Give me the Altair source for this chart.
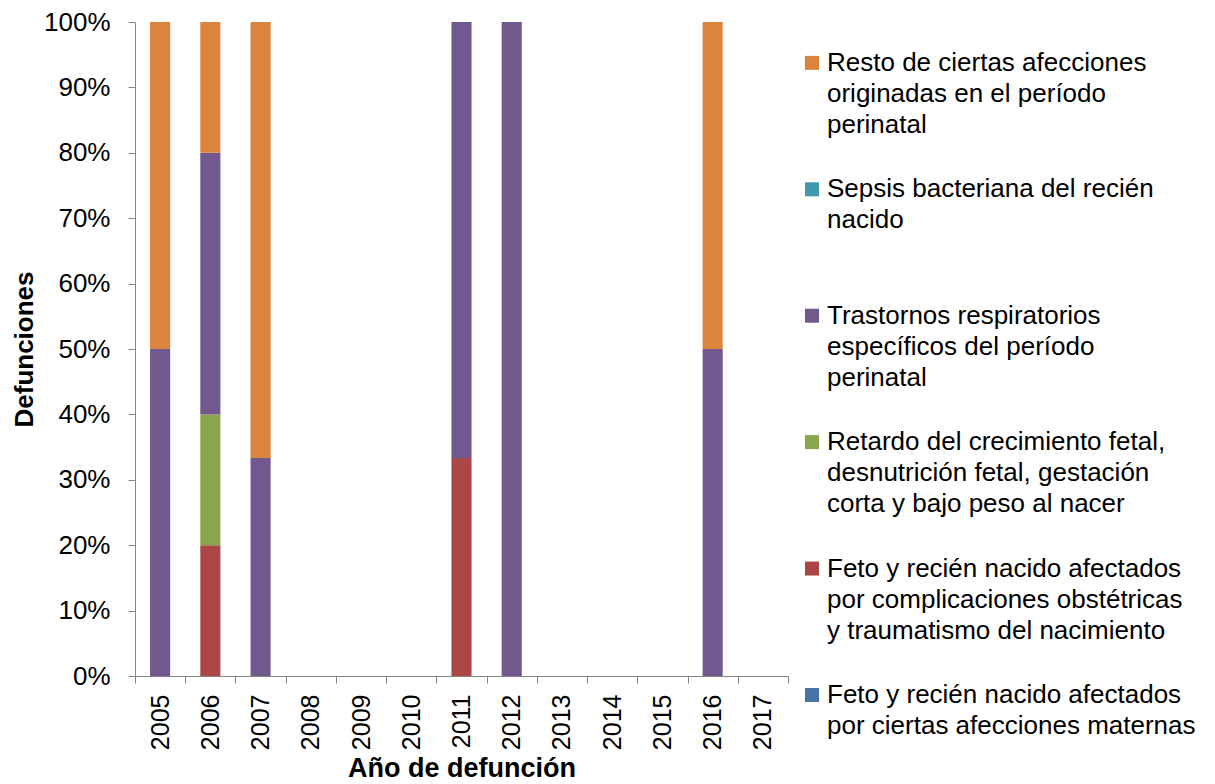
import altair as alt
import pandas as pd

years = [str(y) for y in range(2005, 2018)]

# series, from bottom of stack to top
series = [
    "Feto y recién nacido afectados por ciertas afecciones maternas",
    "Feto y recién nacido afectados por complicaciones obstétricas y traumatismo del nacimiento",
    "Retardo del crecimiento fetal, desnutrición fetal, gestación corta y bajo peso al nacer",
    "Trastornos respiratorios específicos del período perinatal",
    "Sepsis bacteriana del recién nacido",
    "Resto de ciertas afecciones originadas en el período perinatal",
]
legend_lines = [
    ["Feto y recién nacido afectados", "por ciertas afecciones maternas"],
    ["Feto y recién nacido afectados", "por complicaciones obstétricas", "y traumatismo del nacimiento"],
    ["Retardo del crecimiento fetal,", "desnutrición fetal, gestación", "corta y bajo peso al nacer"],
    ["Trastornos respiratorios", "específicos del período", "perinatal"],
    ["Sepsis bacteriana del recién", "nacido"],
    ["Resto de ciertas afecciones", "originadas en el período", "perinatal"],
]
colors = ["#4573A7", "#AA4643", "#89A54E", "#71588F", "#4198AF", "#DB843D"]

# death counts per year (2005..2017)
maternas       = [0, 0, 0, 0, 0, 0, 0, 0, 0, 0, 0, 0, 0]
complicaciones = [0, 1, 0, 0, 0, 0, 1, 0, 0, 0, 0, 0, 0]
retardo        = [0, 1, 0, 0, 0, 0, 0, 0, 0, 0, 0, 0, 0]
trastornos     = [1, 2, 1, 0, 0, 0, 2, 1, 0, 0, 0, 1, 0]
sepsis         = [0, 0, 0, 0, 0, 0, 0, 0, 0, 0, 0, 0, 0]
resto          = [1, 1, 2, 0, 0, 0, 0, 0, 0, 0, 0, 1, 0]
counts = [maternas, complicaciones, retardo, trastornos, sepsis, resto]

y_ticks = [0, 0.1, 0.2, 0.3, 0.4, 0.5, 0.6, 0.7, 0.8, 0.9, 1.0]

rows = []
for si, (name, vals) in enumerate(zip(series, counts)):
    for yr, v in zip(years, vals):
        if v > 0:
            rows.append({"year": yr, "series": name, "s": si, "count": v})
df = pd.DataFrame(rows)

# legend: top entry is last series
sym_rows, txt_rows = [], []
for pos, si in enumerate(reversed(range(len(series)))):
    sym_rows.append({"idx": pos, "series": series[si]})
    for li, t in enumerate(legend_lines[si]):
        txt_rows.append({"idx": pos, "line": li, "text": t})
sym_df = pd.DataFrame(sym_rows)
txt_df = pd.DataFrame(txt_rows)

FONT = "Liberation Sans, Arial, sans-serif"
GRAY = "#868686"

color_scale = alt.Scale(domain=series, range=colors)

bars = alt.Chart(df).mark_bar(width=alt.RelativeBandSize(0.4)).encode(
    x=alt.X(
        "year:N",
        scale=alt.Scale(domain=years, paddingInner=0, paddingOuter=0),
        axis=alt.Axis(
            title="Año de defunción", labelAngle=270, tickBand="extent",
            labelFont=FONT, labelFontSize=25, labelColor="black", labelPadding=11,
            titleFont=FONT, titleFontSize=27, titleFontWeight="bold", titleColor="black",
            titlePadding=6, domainColor=GRAY, tickColor=GRAY, tickSize=7, grid=False,
        ),
    ),
    y=alt.Y(
        "count:Q", stack="normalize",
        scale=alt.Scale(domain=[0, 1]),
        axis=alt.Axis(
            title="Defunciones", format=".0%", values=y_ticks,
            labelFont=FONT, labelFontSize=26, labelColor="black", labelPadding=18,
            titleFont=FONT, titleFontSize=26, titleFontWeight="bold", titleColor="black",
            titlePadding=6, domainColor=GRAY, tickColor=GRAY, tickSize=7, grid=False,
        ),
    ),
    color=alt.Color("series:N", scale=color_scale, legend=None),
    order=alt.Order("s:Q"),
)

ly = alt.Scale(domain=[-0.3233, 4.850], reverse=True)

sym = alt.Chart(sym_df).mark_square(size=196, opacity=1).encode(
    x=alt.value(677),
    y=alt.Y("idx:Q", scale=ly, axis=None),
    color=alt.Color("series:N", scale=color_scale, legend=None),
)

txt_layers = []
for li in range(3):
    txt_layers.append(
        alt.Chart(txt_df).transform_filter(alt.datum.line == li).mark_text(
            align="left", baseline="middle", dy=li * 31, font=FONT, fontSize=26, color="black"
        ).encode(
            x=alt.value(692),
            y=alt.Y("idx:Q", scale=ly, axis=None),
            text="text:N",
        )
    )

chart = alt.layer(bars, sym, *txt_layers).resolve_scale(y="independent").properties(
    width=653, height=654, padding={"left": 3, "top": 1, "right": 0, "bottom": 0}
).configure_view(strokeWidth=0)

chart.save("out.html", embed_options={"renderer": "svg", "actions": False})
